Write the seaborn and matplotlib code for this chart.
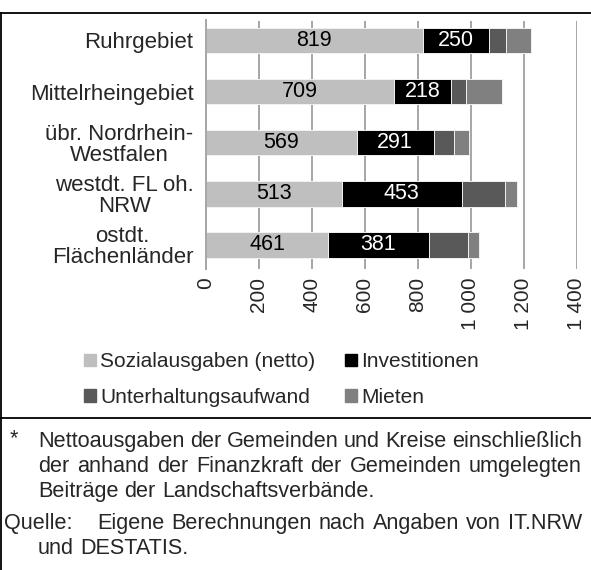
import matplotlib
matplotlib.use("Agg")
import matplotlib.pyplot as plt
from matplotlib.patches import Patch
from matplotlib.lines import Line2D
import seaborn as sns
import pandas as pd

regionen = ["Ruhrgebiet", "Mittelrheingebiet", "übr. Nordrhein-\nWestfalen",
            "westdt. FL oh.\nNRW", "ostdt.\nFlächenländer"]
sozial = [819, 709, 569, 513, 461]
invest = [250, 218, 291, 453, 381]
unterhalt = [64, 57, 76, 163, 148]
mieten = [95, 135, 59, 47, 40]
serien = ["Sozialausgaben (netto)", "Investitionen", "Unterhaltungsaufwand", "Mieten"]
farben = ["#bfbfbf", "#000000", "#595959", "#808080"]
xticks = [0, 200, 400, 600, 800, 1000, 1200, 1400]

sns.set_style("white")
plt.rcParams["font.family"] = ["Liberation Sans", "DejaVu Sans"]

W, H = 591, 570
fig = plt.figure(figsize=(W / 100, H / 100), dpi=100)
ax = fig.add_axes([206 / W, 1 - 269 / H, (576.5 - 206) / W, (269 - 20.5) / H])

df = pd.DataFrame({"region": regionen, "s": sozial, "i": invest, "u": unterhalt, "m": mieten})
df["c1"] = df["s"]
df["c2"] = df["c1"] + df["i"]
df["c3"] = df["c2"] + df["u"]
df["c4"] = df["c3"] + df["m"]

# gestapelte Balken: kumulierte Summen von hinten nach vorn zeichnen
for col, farbe in zip(["c4", "c3", "c2", "c1"], farben[::-1]):
    sns.barplot(data=df, x=col, y="region", color=farbe, orient="h", width=0.5,
                saturation=1, linewidth=0.7, edgecolor="#f2f2f2", ax=ax)

# Werte in den ersten beiden Segmenten
for k in range(len(df)):
    ax.text(df["s"][k] / 2, k, str(df["s"][k]), ha="center", va="center",
            fontsize=15.5, color="black")
    ax.text(df["c1"][k] + df["i"][k] / 2, k, str(df["i"][k]), ha="center",
            va="center", fontsize=15.5, color="white")

ax.set_xlim(0, 1400)
ax.set_ylim(4.47, -0.39)
ax.set_xticks(xticks)
ax.set_xticklabels([f"{v:,}".replace(",", " ") for v in xticks], rotation=90,
                   fontsize=15)
ax.set_xlabel("")
ax.set_ylabel("")
for lab in ax.get_yticklabels():
    lab.set_fontsize(16)
    lab.set_multialignment("center")
    lab.set_linespacing(1.0)
ax.tick_params(axis="both", length=0)
ax.tick_params(axis="x", pad=6)
ax.tick_params(axis="y", pad=9)
ax.xaxis.grid(True, color="#a6a6a6", linewidth=1.4)
ax.set_axisbelow(True)
for s in ["top", "right", "bottom"]:
    ax.spines[s].set_visible(False)
ax.spines["left"].set_color("#a6a6a6")
ax.spines["left"].set_linewidth(1.4)

handles = [Patch(color=farben[0]), Patch(color=farben[2]),
           Patch(color=farben[1]), Patch(color=farben[3])]
labels = [serien[0], serien[2], serien[1], serien[3]]
fig.legend(handles, labels, ncol=2, loc="upper left",
           bbox_to_anchor=(74 / W, 1 - 342 / H), frameon=False, fontsize=15,
           handlelength=0.55, handleheight=0.55, handletextpad=0.2,
           columnspacing=1.45, labelspacing=0.8, borderpad=0)

# Rahmenlinien
for y in [13, 418]:
    fig.add_artist(Line2D([0, 1], [1 - y / H, 1 - y / H], color="black", lw=1.3))
fig.add_artist(Line2D([1.2 / W, 1.2 / W], [0, 1 - 13 / H], color="black", lw=1.3))

fig.canvas.draw()
renderer = fig.canvas.get_renderer()
FS = 15.6


def zeile(worte, x0, x1, y, just=True):
    texte = [fig.text(0, 1 - y / H, w, fontsize=FS, va="baseline") for w in worte]
    breiten = [t.get_window_extent(renderer).width for t in texte]
    gap = renderer.points_to_pixels(FS) * 0.28
    if just and len(worte) > 1:
        gap = max(gap * 0.5, (x1 - x0 - sum(breiten)) / (len(worte) - 1))
    x = x0
    for t, b in zip(texte, breiten):
        t.set_x(x / W)
        x += b + gap


fig.text(10 / W, 1 - 444 / H, "*", fontsize=FS, va="baseline")
zeile("Nettoausgaben der Gemeinden und Kreise einschließlich".split(), 38, 582, 447)
zeile("der anhand der Finanzkraft der Gemeinden umgelegten".split(), 38, 582, 472)
zeile("Beiträge der Landschaftsverbände.".split(), 38, 582, 497, just=False)
fig.text(4 / W, 1 - 529 / H, "Quelle:", fontsize=FS, va="baseline")
zeile("Eigene Berechnungen nach Angaben von IT.NRW".split(), 97, 582, 529)
zeile("und DESTATIS.".split(), 38, 582, 554, just=False)

fig.savefig("out.png", dpi=100)
